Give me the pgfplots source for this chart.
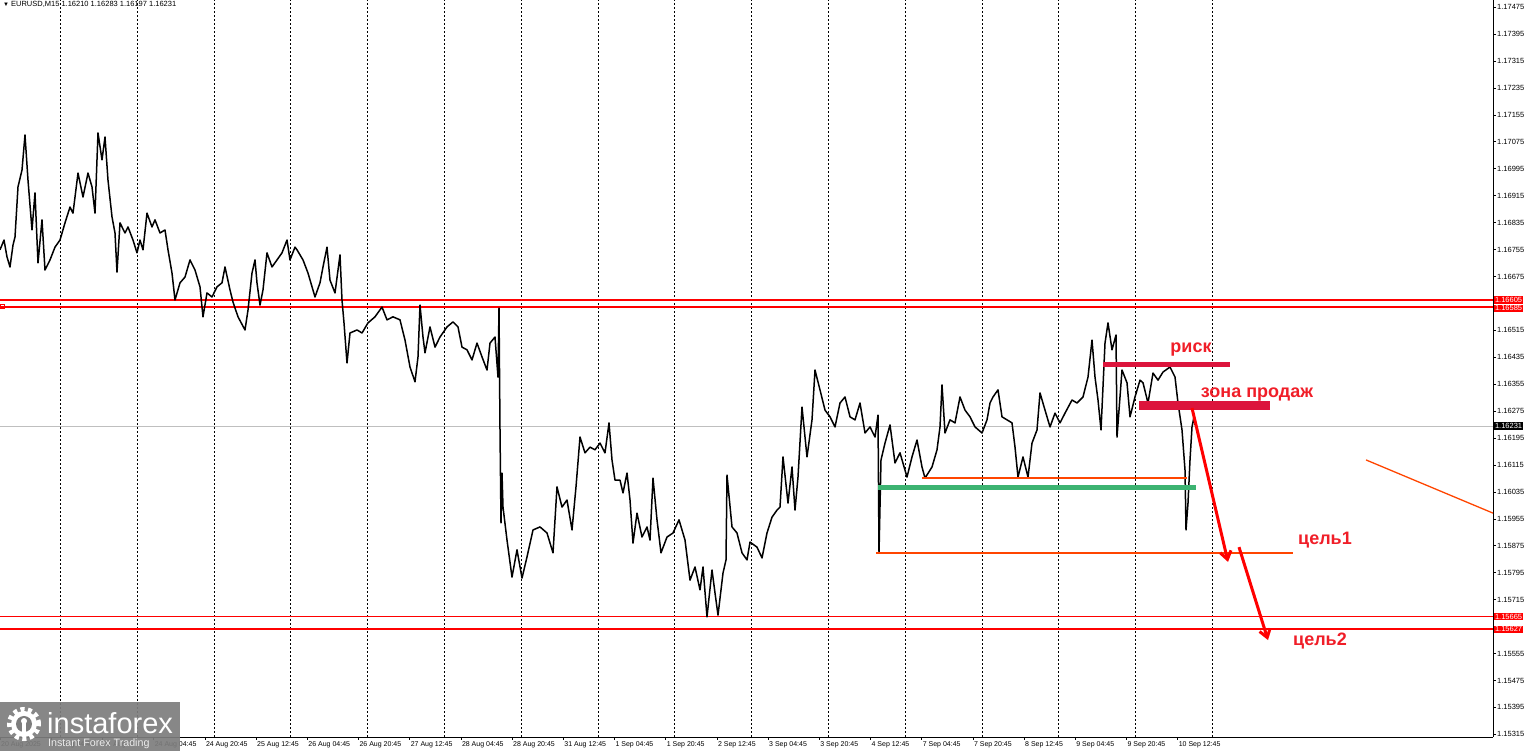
\documentclass[border=0pt]{standalone}
\usepackage{fontspec}
\setmainfont{Liberation Sans}
\usepackage{pgfplots}
\pgfplotsset{compat=1.18}
\usetikzlibrary{arrows.meta}
\definecolor{lvl}{RGB}{255,0,0}
\definecolor{crim}{RGB}{220,20,60}
\definecolor{grn}{RGB}{60,179,113}
\definecolor{ored}{RGB}{255,69,0}
\definecolor{txtred}{RGB}{240,30,40}
\definecolor{logogray}{RGB}{125,125,125}
\begin{document}
\begin{tikzpicture}
\useasboundingbox (0,0) rectangle (1528pt,751pt);
\begin{axis}[
  at={(0pt,14pt)}, anchor=south west,
  scale only axis, width=1493pt, height=737pt,
  xmin=0, xmax=1493, ymin=1.153071, ymax=1.17496,
  axis x line*=bottom, axis y line*=right,
  axis line style={black, line width=0.8pt},
  clip mode=individual,
  tick align=outside, major tick length=3pt,
  tick style={black, line width=0.6pt},
  xtick={0,51.2,102.4,153.6,204.8,256,307.2,358.4,409.6,460.8,512,563.2,614.4,665.6,716.8,768,819.2,870.4,921.6,972.8,1024,1075.2,1126.4,1177.6},
  xticklabels={20 Aug 2025,21 Aug 04:45,21 Aug 20:45,24 Aug 04:45,24 Aug 20:45,25 Aug 12:45,26 Aug 04:45,26 Aug 20:45,27 Aug 12:45,28 Aug 04:45,28 Aug 20:45,31 Aug 12:45,1 Sep 04:45,1 Sep 20:45,2 Sep 12:45,3 Sep 04:45,3 Sep 20:45,4 Sep 12:45,7 Sep 04:45,7 Sep 20:45,8 Sep 12:45,9 Sep 04:45,9 Sep 20:45,10 Sep 12:45},
  xticklabel style={anchor=north west, inner sep=1pt, font=\fontsize{7}{8}\selectfont},
  ytick={1.15315,1.15395,1.15475,1.15555,1.15715,1.15795,1.15875,1.15955,1.16035,1.16115,1.16195,1.16275,1.16355,1.16435,1.16515,1.16675,1.16755,1.16835,1.16915,1.16995,1.17075,1.17155,1.17235,1.17315,1.17395,1.17475},
  yticklabels={1.15315,1.15395,1.15475,1.15555,1.15715,1.15795,1.15875,1.15955,1.16035,1.16115,1.16195,1.16275,1.16355,1.16435,1.16515,1.16675,1.16755,1.16835,1.16915,1.16995,1.17075,1.17155,1.17235,1.17315,1.17395,1.17475},
  yticklabel style={anchor=west, inner sep=1pt, font=\fontsize{7.5}{8}\selectfont},
  extra x ticks={60.3,137.1,213.9,290.7,367.5,444.3,521.1,597.9,674.7,751.5,828.3,905.1,981.9,1058.7,1135.5,1212.3},
  extra x tick labels={},
  extra x tick style={grid=major, major tick length=0pt, major grid style={black, line width=0.7pt, dash pattern=on 2pt off 2pt}},
]
% bid line
\addplot[draw=black!25, line width=0.8pt] coordinates {(0,1.16231) (1493,1.16231)};
% levels
\addplot[draw=lvl, line width=1.6pt] coordinates {(0,1.16605) (1493,1.16605)};
\addplot[draw=lvl, line width=1.6pt] coordinates {(0,1.16585) (1493,1.16585)};
\addplot[draw=lvl, line width=1.6pt] coordinates {(0,1.15665) (1493,1.15665)};
\addplot[draw=lvl, line width=1.6pt] coordinates {(0,1.15627) (1493,1.15627)};
\addplot[draw=lvl, only marks, mark=square, mark size=2pt, line width=0.8pt] coordinates {(2,1.16585)};
% price
\addplot[black, line width=1.5pt, line join=round] coordinates {
(0,1.16754)(4,1.16783)(7,1.16733)(10,1.16703)(13,1.16768)(15,1.16792)(18,1.16941)(22,1.16991)(25,1.17095)(28,1.16961)(32,1.16813)(35,1.16923)(38,1.16715)(42,1.16843)(45,1.16694)(50,1.16724)(55,1.16762)(60,1.16783)(65,1.16834)(70,1.16881)(73,1.16863)(78,1.16982)(83,1.16911)(88,1.16982)(92,1.16941)(95,1.16863)(98,1.17101)(102,1.17021)(105,1.17089)(108,1.16961)(112,1.16852)(115,1.16804)(117,1.16688)(120,1.16834)(125,1.16804)(128,1.16822)(133,1.16783)(137,1.16745)(140,1.16783)(143,1.16754)(147,1.16863)(152,1.16822)(155,1.16843)(160,1.16804)(165,1.16813)(168,1.16754)(172,1.16685)(175,1.16605)(180,1.16656)(185,1.16673)(190,1.16724)(195,1.16694)(200,1.16644)(203,1.16555)(207,1.16626)(212,1.16614)(217,1.16644)(222,1.16656)(225,1.16703)(230,1.16635)(233,1.16599)(238,1.16555)(245,1.16516)(248,1.16575)(252,1.16685)(255,1.16724)(257,1.16656)(260,1.16590)(263,1.16635)(267,1.16745)(272,1.16703)(277,1.16724)(282,1.16745)(287,1.16783)(290,1.16724)(295,1.16762)
(297,1.16754)(303,1.16724)(308,1.16685)(315,1.16614)(320,1.16656)(323,1.16703)(327,1.16762)(330,1.16664)(335,1.16626)(340,1.16739)(342,1.16605)(344,1.16537)(347,1.16418)(350,1.16507)(357,1.16516)(362,1.16507)(368,1.16537)(375,1.16555)(382,1.16584)(387,1.16546)(393,1.16555)(400,1.16546)(405,1.16486)(410,1.16406)(415,1.16362)(418,1.16436)(420,1.16590)(423,1.16495)(425,1.16448)(430,1.16525)(435,1.16465)(440,1.16495)(447,1.16525)(453,1.16540)(458,1.16525)(462,1.16465)(467,1.16457)(472,1.16427)(477,1.16477)(482,1.16436)(487,1.16397)(490,1.16477)(495,1.16495)(498,1.16376)(499,1.16581)(500,1.16219)(501,1.15943)(502,1.16091)(503,1.15990)(507,1.15892)(512,1.15782)(517,1.15863)(522,1.15779)(527,1.15842)(533,1.15922)(540,1.15931)(547,1.15913)(553,1.15854)(557,1.16050)(562,1.15990)(567,1.16011)(572,1.15922)(576,1.16050)(580,1.16198)(585,1.16151)(590,1.16168)(595,1.16160)
(600,1.16180)(605,1.16151)(609,1.16240)(612,1.16130)(615,1.16070)(620,1.16070)(623,1.16032)(627,1.16091)(630,1.16011)(633,1.15883)(637,1.15972)(642,1.15901)(647,1.15931)(650,1.15892)(653,1.16076)(657,1.15952)(661,1.15854)(667,1.15901)(673,1.15913)(679,1.15952)(685,1.15892)(690,1.15773)(695,1.15812)(700,1.15744)(703,1.15812)(707,1.15664)(712,1.15803)(715,1.15735)(718,1.15669)(723,1.15794)(726,1.15833)(727,1.16085)(732,1.15931)(737,1.15913)(742,1.15854)(747,1.15833)(750,1.15886)(757,1.15871)(762,1.15839)(767,1.15913)(772,1.15960)(777,1.15981)(780,1.15990)(783,1.16139)(788,1.16002)(792,1.16109)(795,1.15981)(798,1.16079)(802,1.16287)(807,1.16139)(812,1.16249)(815,1.16397)(820,1.16338)(825,1.16278)(830,1.16258)(835,1.16228)(840,1.16299)(845,1.16317)(850,1.16258)(855,1.16249)(860,1.16299)(865,1.16210)(870,1.16228)(875,1.16198)(878,1.16263)(879,1.15854)(881,1.16130)(885,1.16180)(890,1.16234)
(895,1.16121)(900,1.16151)(907,1.16079)(912,1.16139)(917,1.16189)(922,1.16109)(925,1.16076)(932,1.16109)(937,1.16160)(940,1.16228)(942,1.16353)(945,1.16210)(950,1.16249)(955,1.16240)(960,1.16317)(965,1.16278)(970,1.16258)(975,1.16228)(982,1.16210)(987,1.16249)(990,1.16299)(993,1.16317)(998,1.16338)(1002,1.16258)(1007,1.16249)(1012,1.16240)(1015,1.16168)(1018,1.16079)(1023,1.16139)(1028,1.16079)(1032,1.16180)(1037,1.16219)(1040,1.16329)(1045,1.16278)(1050,1.16228)(1055,1.16269)(1060,1.16240)(1065,1.16269)(1072,1.16308)(1077,1.16299)(1083,1.16317)(1088,1.16376)(1092,1.16486)(1095,1.16376)(1098,1.16308)(1101,1.16219)(1105,1.16477)(1108,1.16537)(1112,1.16457)(1116,1.16501)(1117,1.16198)(1122,1.16397)(1127,1.16359)(1130,1.16258)(1135,1.16317)(1140,1.16367)(1143,1.16359)(1148,1.16299)(1153,1.16388)(1158,1.16367)(1163,1.16391)(1170,1.16406)(1175,1.16376)(1178,1.16299)(1182,1.16219)(1185,1.16100)(1186,1.15922)(1188,1.16002)(1190,1.16130)(1192,1.16228)(1194,1.16258)(1195,1.16234)
};
% orange lines
\addplot[draw=ored, line width=1.3pt] coordinates {(922,1.16076) (1187,1.16076)};
\addplot[draw=ored, line width=1.3pt] coordinates {(876,1.15854) (1293,1.15854)};
\addplot[draw=ored, line width=1.3pt] coordinates {(1366,1.16130) (1493,1.15972)};
% green band
\addplot[draw=grn, line width=5pt] coordinates {(878,1.16047) (1196,1.16047)};
% crimson bars
\addplot[draw=crim, line width=4.5pt] coordinates {(1103,1.16413) (1230,1.16413)};
\addplot[draw=crim, line width=9pt] coordinates {(1139,1.16292) (1270,1.16292)};
% arrows
\addplot[draw=lvl, line width=3pt, -{Straight Barb[length=8pt,width=11pt]}] coordinates {(1192,1.16284) (1228,1.15827)};
\addplot[draw=lvl, line width=3pt, -{Straight Barb[length=8pt,width=11pt]}] coordinates {(1239,1.15871) (1268,1.15595)};
% texts
\node[txtred, font=\bfseries\fontsize{18}{20}\selectfont, anchor=base] at (axis cs:1191,1.16448) {риск};
\node[txtred, font=\bfseries\fontsize{18}{20}\selectfont, anchor=base] at (axis cs:1257,1.16315) {зона продаж};
\node[txtred, font=\bfseries\fontsize{18}{20}\selectfont, anchor=base] at (axis cs:1325,1.15880) {цель1};
\node[txtred, font=\bfseries\fontsize{18}{20}\selectfont, anchor=base] at (axis cs:1320,1.15580) {цель2};
% right price labels
\node[fill=lvl, text=white, anchor=west, inner sep=0.8pt, minimum height=7.5pt, font=\fontsize{7.5}{8}\selectfont] at (axis cs:1494,1.16605) {1.16605};
\node[fill=lvl, text=white, anchor=west, inner sep=0.8pt, minimum height=7.5pt, font=\fontsize{7.5}{8}\selectfont] at (axis cs:1494,1.16580) {1.16585};
\node[fill=lvl, text=white, anchor=west, inner sep=0.8pt, minimum height=7.5pt, font=\fontsize{7.5}{8}\selectfont] at (axis cs:1494,1.15665) {1.15665};
\node[fill=lvl, text=white, anchor=west, inner sep=0.8pt, minimum height=7.5pt, font=\fontsize{7.5}{8}\selectfont] at (axis cs:1494,1.15627) {1.15627};
\node[fill=black, text=white, anchor=west, inner sep=0.8pt, minimum height=7.5pt, font=\fontsize{7.5}{8}\selectfont] at (axis cs:1494,1.16231) {1.16231};
\end{axis}
% header
\node[anchor=west, inner sep=0, font=\fontsize{7.5}{8}\selectfont] at (3pt,746.5pt) {\scalebox{0.8}{▼}\hspace{2pt}EURUSD,M15 1.16210 1.16283 1.16197 1.16231};
% logo
\fill[logogray, opacity=0.92] (0,0) rectangle (180pt,49pt);
\fill[white] (24pt,27pt) circle (13pt);
\draw[white, line width=5pt, dash pattern=on 4pt off 3.4pt] (24pt,27pt) circle (14.5pt);
\fill[logogray] (24pt,27pt) circle (8pt);
\fill[white] (24pt,30pt) circle (3pt);
\fill[white] (22.3pt,14pt) rectangle (25.7pt,28pt);
\node[white, anchor=base west, inner sep=0, font=\fontsize{29}{30}\selectfont] at (47pt,17pt) {instaforex};
\node[white!85!gray, anchor=base west, inner sep=0, font=\fontsize{10.7}{11}\selectfont] at (48pt,4pt) {Instant Forex Trading};
\end{tikzpicture}
\end{document}
